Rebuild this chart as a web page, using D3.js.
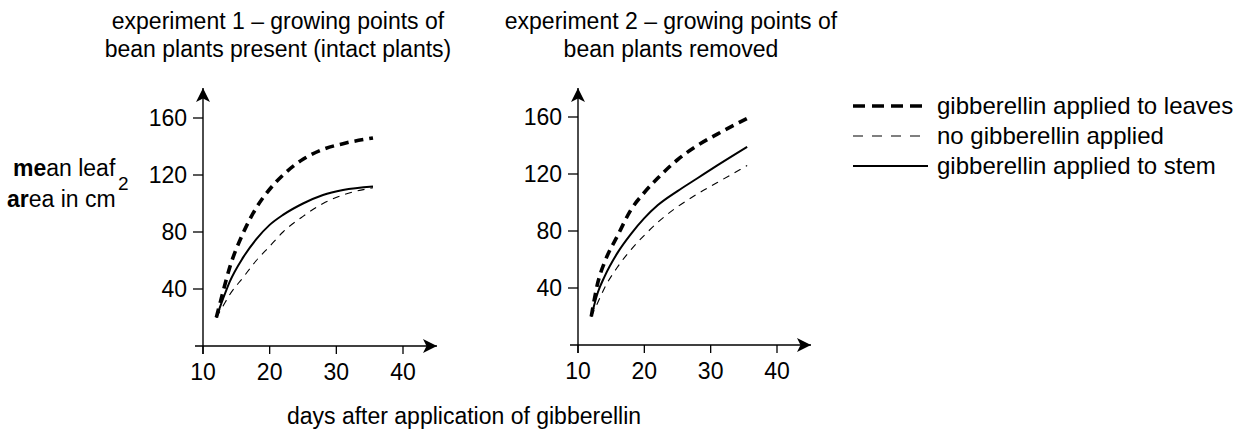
<!DOCTYPE html>
<html>
<head>
<meta charset="utf-8">
<title>gibberellin</title>
<script src="https://d3js.org/d3.v7.min.js"></script>
<style>
  html, body { margin: 0; padding: 0; background: #fff; }
  svg { font-family: 'Liberation Sans', Arial, Helvetica, sans-serif; }
</style>
</head>
<body>
<div id="chart"></div>
<script>
// data
const days = [12, 13, 14, 16, 18, 20, 22, 25, 28, 31, 35.5]
const exp1Leaves = [20, 38, 55, 79, 97, 110, 120, 131, 138, 142, 146]
const exp1None   = [20, 28, 36, 48, 60, 70, 80, 91, 100, 106, 111]
const exp1Stem   = [20, 33, 45, 62, 75, 85, 92, 100, 106, 109.5, 112]
const exp2Leaves = [20, 44, 58, 77, 95, 107, 117, 130, 140, 148, 159]
const exp2None   = [20, 30, 40, 55, 67, 77, 86, 97, 106, 114, 126]
const exp2Stem   = [20, 37, 48, 65, 78, 89, 98, 108, 117, 126, 139]
const xTicks = [10, 20, 30, 40]
const yTicks = [40, 80, 120, 160]
const titles = [
  ['experiment 1 \u2013 growing points of', 'bean plants present (intact plants)'],
  ['experiment 2 \u2013 growing points of', 'bean plants removed']
]
const legendLabels = ['gibberellin applied to leaves', 'no gibberellin applied', 'gibberellin applied to stem']

const styles = [
  {width: 3.6, dash: '9,6'},   // leaves
  {width: 1.1, dash: '7,6'},   // none
  {width: 2, dash: null}       // stem
]

const W = 1246, H = 435
const FS = 23
const svg = d3.select('#chart').append('svg').attr('width', W).attr('height', H)

svg.append('defs').append('marker')
  .attr('id', 'arr').attr('viewBox', '0 0 10 10').attr('refX', 10).attr('refY', 5)
  .attr('markerWidth', 20).attr('markerHeight', 14).attr('markerUnits', 'userSpaceOnUse')
  .attr('orient', 'auto')
  .append('path').attr('d', 'M0,0 L10,5 L0,10 L2.5,5 Z').attr('fill', '#000')

const panels = [
  {x0: 203, x1: 403, y0: 346, y1: 118, series: [exp1Leaves, exp1None, exp1Stem], cx: 278},
  {x0: 578, x1: 777, y0: 345, y1: 117, series: [exp2Leaves, exp2None, exp2Stem], cx: 671}
]

panels.forEach((p, i) => {
  const x = d3.scaleLinear().domain([10, 40]).range([p.x0, p.x1])
  const y = d3.scaleLinear().domain([0, 160]).range([p.y0, p.y1])
  const g = svg.append('g')

  // axes with arrows
  g.append('line').attr('x1', x(10)).attr('x2', x(10)).attr('y1', y(0) + 8).attr('y2', 88)
    .attr('stroke', '#000').attr('stroke-width', 1.4).attr('marker-end', 'url(#arr)')
  g.append('line').attr('x1', x(10) - 8).attr('x2', x(40) + 34).attr('y1', y(0)).attr('y2', y(0))
    .attr('stroke', '#000').attr('stroke-width', 1.4).attr('marker-end', 'url(#arr)')

  xTicks.forEach(t => {
    g.append('line').attr('x1', x(t)).attr('x2', x(t)).attr('y1', y(0)).attr('y2', y(0) + 8)
      .attr('stroke', '#000').attr('stroke-width', 1.3)
    g.append('text').attr('x', x(t)).attr('y', y(0) + 34).attr('text-anchor', 'middle')
      .attr('font-size', FS).text(t)
  })
  yTicks.forEach(t => {
    g.append('line').attr('x1', x(10) - 10).attr('x2', x(10)).attr('y1', y(t)).attr('y2', y(t))
      .attr('stroke', '#000').attr('stroke-width', 1.3)
    g.append('text').attr('x', x(10) - 16).attr('y', y(t) + 8).attr('text-anchor', 'end')
      .attr('font-size', FS).text(t)
  })

  const line = d3.line().x((d, k) => x(days[k])).y(d => y(d)).curve(d3.curveMonotoneX)
  p.series.forEach((s, k) => {
    g.append('path').attr('d', line(s)).attr('fill', 'none').attr('stroke', '#000')
      .attr('stroke-width', styles[k].width)
      .attr('stroke-dasharray', styles[k].dash)
  })

  titles[i].forEach((t, k) => {
    g.append('text').attr('x', p.cx).attr('y', 29 + k * 28).attr('text-anchor', 'middle')
      .attr('font-size', FS).text(t)
  })
})

// y label
const yl = svg.append('g').attr('font-size', FS)
yl.append('text').attr('x', 13).attr('y', 176)
  .html('<tspan font-weight="bold">me</tspan>an leaf')
yl.append('text').attr('x', 118).attr('y', 190).attr('font-size', 19).text('2')
yl.append('text').attr('x', 7).attr('y', 207)
  .html('<tspan font-weight="bold">ar</tspan>ea in cm')

// x label
svg.append('text').attr('x', 464).attr('y', 424).attr('text-anchor', 'middle')
  .attr('font-size', FS).text('days after application of gibberellin')

// legend
const legendDash = ['12,7', '10,9', null]
legendLabels.forEach((lab, k) => {
  const ly = 106 + k * 30
  svg.append('line').attr('x1', 853).attr('x2', 928).attr('y1', ly).attr('y2', ly)
    .attr('stroke', '#000').attr('stroke-width', styles[k].width)
    .attr('stroke-dasharray', legendDash[k])
  svg.append('text').attr('x', 937).attr('y', ly + 8).attr('font-size', 24).text(lab)
})
</script>
</body>
</html>
